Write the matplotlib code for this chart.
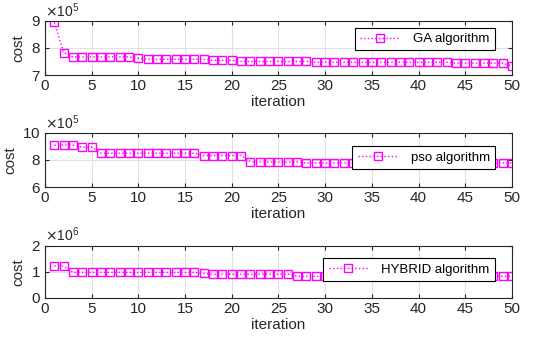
import matplotlib
matplotlib.use("Agg")
import matplotlib.pyplot as plt

plt.rcParams['font.family'] = ['Liberation Sans', 'DejaVu Sans']

iterations = list(range(1, 51))

ga_cost = [895000, 782000,
           767000, 767000, 767000, 767000, 767000, 767000, 767000,
           762000,
           758000, 758000, 758000, 758000, 758000, 758000, 758000,
           754000, 754000, 754000,
           750000, 750000, 750000, 750000, 750000, 750000, 750000, 750000,
           747000, 747000, 747000, 747000, 747000, 747000, 747000, 747000,
           747000, 747000, 747000, 747000, 747000, 747000, 747000,
           744000, 744000, 744000, 744000, 744000, 744000,
           733000]

pso_cost = [910000, 910000, 910000,
            895000, 895000,
            850000, 850000, 850000, 850000, 850000, 850000, 850000, 850000,
            850000, 850000, 850000,
            833000, 833000, 833000, 833000, 833000,
            785000, 785000, 785000, 785000, 785000, 785000,
            778000, 778000, 778000, 778000, 778000, 778000, 778000, 778000,
            778000, 778000, 778000, 778000, 778000, 778000, 778000, 778000,
            778000, 778000, 778000, 778000, 778000, 778000, 778000]

hybrid_cost = [1220000, 1220000,
               980000, 980000, 980000, 980000, 980000, 980000, 980000,
               980000, 980000, 980000, 980000, 980000, 980000, 980000,
               940000,
               910000, 910000, 910000, 910000, 910000, 910000, 910000, 910000,
               910000,
               830000, 830000, 830000, 830000, 830000, 830000, 830000, 830000,
               830000, 830000, 830000, 830000, 830000, 830000, 830000, 830000,
               830000, 830000, 830000, 830000, 830000, 830000, 830000, 830000]

labels = ["GA algorithm", "pso algorithm", "HYBRID algorithm"]
series = [ga_cost, pso_cost, hybrid_cost]
ylims = [(700000, 900000), (600000, 1000000), (0, 2000000)]
yticks = [[700000, 800000, 900000], [600000, 800000, 1000000], [0, 1000000, 2000000]]
exponents = [5, 5, 6]
xticks = [0, 5, 10, 15, 20, 25, 30, 35, 40, 45, 50]

fig = plt.figure(figsize=(5.5, 3.42), dpi=100)
positions = [
    [0.0818, 0.7807, 0.849, 0.158],
    [0.0818, 0.4532, 0.849, 0.158],
    [0.0818, 0.1287, 0.849, 0.153],
]
leg_anchor = [(0.972, 0.95), (0.972, 0.83), (0.972, 0.84)]
frame_col = '#262626'
magenta = '#ff00ff'

for pos, y, lab, yl, yt, ex, anc in zip(positions, series, labels, ylims, yticks,
                                         exponents, leg_anchor):
    ax = fig.add_axes(pos)
    ax.plot(iterations, y, linestyle=':', color=magenta, linewidth=1.0,
            marker='s', markersize=5.5, markerfacecolor='none',
            markeredgecolor=magenta, markeredgewidth=1.0, label=lab)
    ax.set_xlim(0, 50)
    ax.set_ylim(*yl)
    ax.set_xticks(xticks)
    ax.set_yticks(yt)
    ax.ticklabel_format(axis='y', style='sci', scilimits=(ex, ex), useMathText=True)
    ax.yaxis.get_offset_text().set_fontsize(10)
    ax.yaxis.get_offset_text().set_color(frame_col)
    ax.grid(True, color='#e0e0e0', linewidth=0.8)
    ax.set_axisbelow(True)
    ax.tick_params(direction='in', top=True, right=True, length=3,
                   labelsize=11, colors=frame_col, pad=3)
    for s in ax.spines.values():
        s.set_color(frame_col)
        s.set_linewidth(0.8)
    ax.set_xlabel('iteration', fontsize=11, labelpad=1, color=frame_col)
    ax.set_ylabel('cost', fontsize=11, labelpad=4, color=frame_col)
    leg = ax.legend(loc='upper right', bbox_to_anchor=anc, fontsize=9.5,
                    frameon=True, fancybox=False, framealpha=1,
                    edgecolor='black', handlelength=3.0, borderpad=0.4,
                    handletextpad=1.0, borderaxespad=0.3)
    leg.get_frame().set_linewidth(0.8)

fig.savefig('out.png', dpi=100)
